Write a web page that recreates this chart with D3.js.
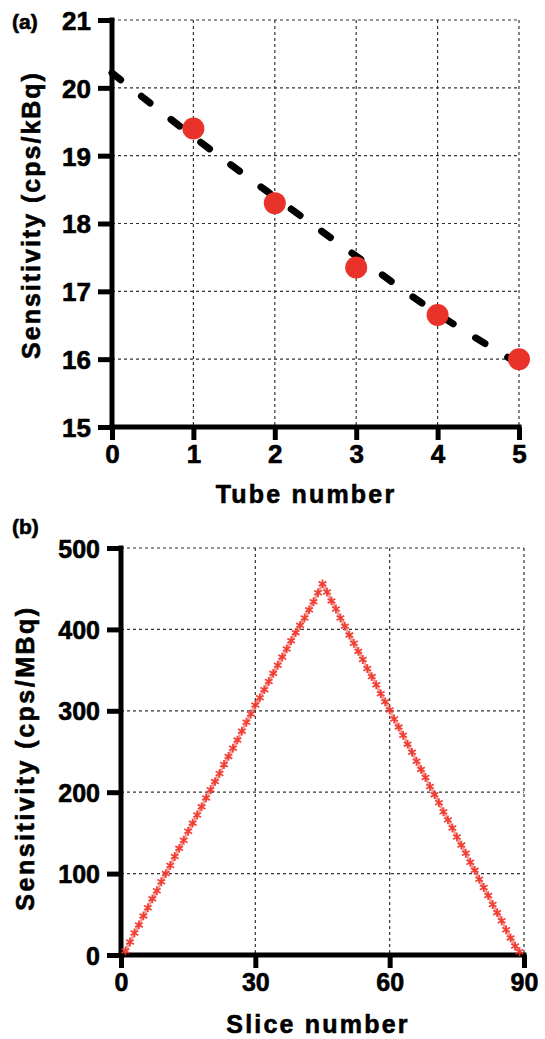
<!DOCTYPE html>
<html>
<head>
<meta charset="utf-8">
<script src="https://cdn.jsdelivr.net/npm/d3@7"></script>
<style>
  body { margin: 0; background: #fff; }
  text { font-family: "Liberation Sans", Arial, sans-serif; font-weight: bold; fill: #000;
         stroke: #000; stroke-width: 0.6px; }
</style>
</head>
<body>
<div id="chart"></div>
<script>
// panel (a)
var tubes = [1, 2, 3, 4, 5];
var tubeSens = [19.4, 18.3, 17.35, 16.65, 16.0];
var fitX = [0, 1, 2, 3, 4, 5];
var fitY = [20.22, 19.28, 18.39, 17.52, 16.67, 15.93];
var tubeTicks = [0, 1, 2, 3, 4, 5];
var kbqTicks = [15, 16, 17, 18, 19, 20, 21];

// panel (b)
var sliceSens = [5, 16, 27, 37, 48, 58, 69, 79, 90, 100,
  110, 121, 131, 141, 152, 162, 172, 182, 193, 203,
  213, 223, 234, 244, 254, 264, 275, 286, 296, 307,
  316, 326, 336, 346, 356, 366, 376, 386, 396, 405,
  414, 424, 434, 445, 456,
  446, 435, 425, 414, 404, 393, 383, 373, 363, 352,
  342, 332, 321, 311, 301, 290, 280, 270, 259, 249,
  238, 228, 218, 207, 197, 187, 176, 166, 156, 145,
  135, 125, 114, 104, 93, 83, 73, 62, 52, 42,
  31, 21, 11, 4];
var sliceTicks = [0, 30, 60, 90];
var mbqTicks = [0, 100, 200, 300, 400, 500];

function init()
{
    var w = 545;
    var h = 1039;

    var svg = d3.select("#chart")
                .append("svg")
                .attr("width", w)
                .attr("height", h);

    function panel(opt)
    {
        var g = svg.append("g");
        var x = d3.scaleLinear().domain(opt.xDomain).range([opt.left, opt.right]);
        var y = d3.scaleLinear().domain(opt.yDomain).range([opt.bottom, opt.top]);

        // dotted grid
        g.selectAll(".gx")
            .data(opt.xTicks.slice(1))
            .enter()
            .append("line")
            .attr("x1", function(d) { return x(d); })
            .attr("x2", function(d) { return x(d); })
            .attr("y1", opt.top)
            .attr("y2", opt.bottom)
            .attr("stroke", "#333")
            .attr("stroke-width", 1.2)
            .attr("stroke-dasharray", "3,3");
        g.selectAll(".gy")
            .data(opt.yTicks.slice(1))
            .enter()
            .append("line")
            .attr("y1", function(d) { return y(d); })
            .attr("y2", function(d) { return y(d); })
            .attr("x1", opt.left)
            .attr("x2", opt.right)
            .attr("stroke", "#333")
            .attr("stroke-width", 1.2)
            .attr("stroke-dasharray", "3,3");

        var xAxis = d3.axisBottom(x).tickValues(opt.xTicks).tickFormat(d3.format("d"))
                      .tickSize(13).tickPadding(5);
        var yAxis = d3.axisLeft(y).tickValues(opt.yTicks).tickFormat(d3.format("d"))
                      .tickSize(14).tickPadding(7);

        var gx = g.append("g")
            .attr("transform", "translate(0," + opt.bottom + ")")
            .call(xAxis);
        var gy = g.append("g")
            .attr("transform", "translate(" + opt.left + ",0)")
            .call(yAxis);

        [gx, gy].forEach(function(a) {
            a.selectAll("path").attr("stroke", "#000").attr("stroke-width", 5);
            a.selectAll("line").attr("stroke", "#000").attr("stroke-width", 5);
            a.selectAll("text").style("font-size", opt.tickFont + "px").attr("fill", "#000");
        });
        gx.select("path").attr("d", "M" + (opt.left - 2.5) + ",0H" + (opt.right + 2.5));
        gy.select("path").attr("d", "M0," + (opt.bottom + 2.5) + "V" + (opt.top - 2.5));
        gy.selectAll("text").attr("dy", "0.36em");

        g.append("text")
            .attr("x", opt.xTitleX)
            .attr("y", opt.xTitleY)
            .attr("text-anchor", "middle")
            .style("font-size", "25px")
            .style("letter-spacing", "2.2px")
            .text(opt.xTitle);

        g.append("text")
            .attr("transform", "translate(" + opt.yTitleX + "," + opt.yTitleY + ") rotate(-90)")
            .attr("text-anchor", "middle")
            .style("font-size", "25px")
            .style("letter-spacing", opt.yTitleSpacing + "px")
            .text(opt.yTitle);

        g.append("text")
            .attr("x", 12)
            .attr("y", opt.labelY)
            .style("font-size", "21px")
            .text(opt.label);

        return { g: g, x: x, y: y };
    }

    var a = panel({
        xDomain: [0, 5], yDomain: [15, 21],
        left: 112, right: 519, top: 20, bottom: 427,
        xTicks: tubeTicks, yTicks: kbqTicks, tickFont: 26,
        xTitle: "Tube number", xTitleX: 306, xTitleY: 503,
        yTitle: "Sensitivity (cps/kBq)", yTitleX: 40, yTitleY: 215, yTitleSpacing: 2,
        label: "(a)", labelY: 29
    });

    a.g.append("path")
        .datum(fitY)
        .attr("d", d3.line()
            .x(function(d, i) { return a.x(fitX[i]); })
            .y(function(d) { return a.y(d); })
            .curve(d3.curveMonotoneX))
        .attr("fill", "none")
        .attr("stroke", "#000")
        .attr("stroke-width", 7)
        .attr("stroke-linecap", "round")
        .attr("stroke-dasharray", "11,26.5");

    a.g.selectAll("circle")
        .data(tubes)
        .enter()
        .append("circle")
        .attr("cx", function(d) { return a.x(d); })
        .attr("cy", function(d, i) { return a.y(tubeSens[i]); })
        .attr("r", 11)
        .attr("fill", "#e9322a");

    var b = panel({
        xDomain: [0, 90], yDomain: [0, 500],
        left: 121, right: 524, top: 548, bottom: 955,
        xTicks: sliceTicks, yTicks: mbqTicks, tickFont: 25,
        xTitle: "Slice number", xTitleX: 318, xTitleY: 1033,
        yTitle: "Sensitivity (cps/MBq)", yTitleX: 34, yTitleY: 758, yTitleSpacing: 2.5,
        label: "(b)", labelY: 534
    });

    b.g.append("path")
        .datum(sliceSens)
        .attr("d", d3.line()
            .x(function(d, i) { return b.x(i + 1); })
            .y(function(d) { return b.y(d); }))
        .attr("fill", "none")
        .attr("stroke", "#f05a50")
        .attr("stroke-width", 2.5)
        .attr("stroke-opacity", 0.6);

    var sym = d3.symbol().type(d3.symbolAsterisk).size(55);
    b.g.selectAll(".mk")
        .data(sliceSens)
        .enter()
        .append("path")
        .attr("transform", function(d, i) {
            return "translate(" + b.x(i + 1) + "," + b.y(d) + ")";
        })
        .attr("d", sym)
        .attr("fill", "none")
        .attr("stroke", "#f03228")
        .attr("stroke-opacity", 0.9)
        .attr("stroke-width", 1.8);
}
window.onload = init;
</script>
</body>
</html>
